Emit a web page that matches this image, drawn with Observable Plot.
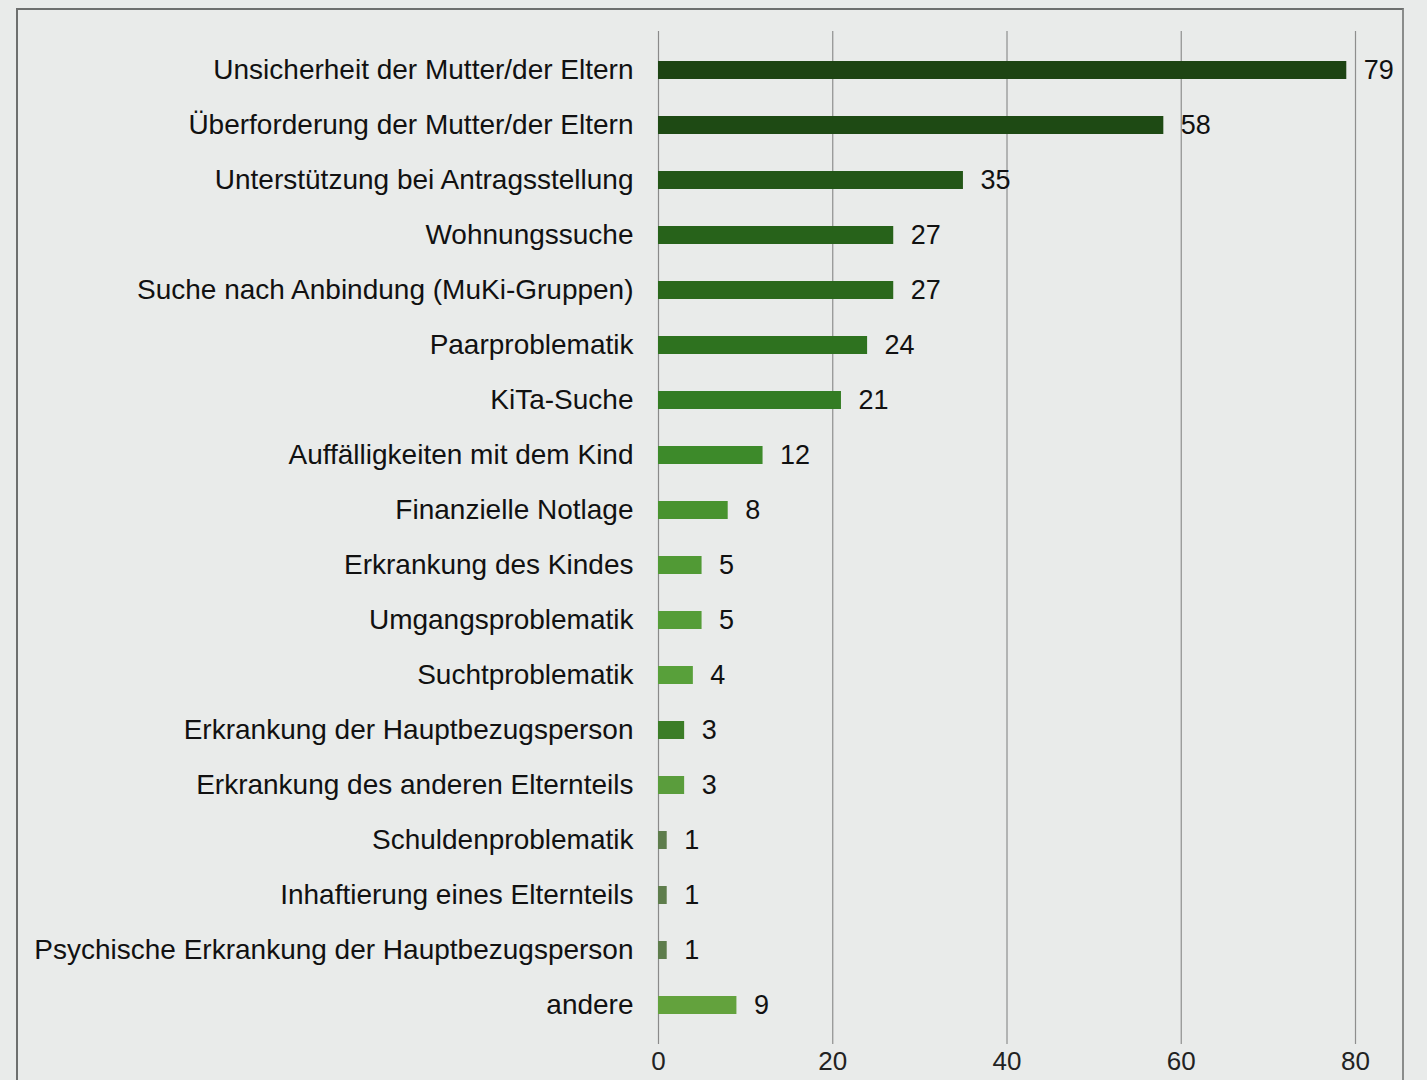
<!DOCTYPE html>
<html>
<head>
<meta charset="utf-8">
<script src="https://cdn.jsdelivr.net/npm/d3@7"></script>
<script src="https://cdn.jsdelivr.net/npm/@observablehq/plot@0.6"></script>
<style>
  html, body { margin: 0; padding: 0; background: #e9ebea; }
  #frame { position: absolute; left: 16px; top: 8px; width: 1384px; height: 1100px; border-top: 2px solid #6d6f6e; border-left: 2px solid #6d6f6e; border-right: 2px solid #8a8c8b; }
  #chart { position: absolute; left: 0; top: 0; }
  svg { font-family: "Liberation Sans", Arial, sans-serif; }
</style>
</head>
<body>
<div id="frame"></div>
<div id="chart"></div>
<script>
const categories = [
  "Unsicherheit der Mutter/der Eltern",
  "Überforderung der Mutter/der Eltern",
  "Unterstützung bei Antragsstellung",
  "Wohnungssuche",
  "Suche nach Anbindung (MuKi-Gruppen)",
  "Paarproblematik",
  "KiTa-Suche",
  "Auffälligkeiten mit dem Kind",
  "Finanzielle Notlage",
  "Erkrankung des Kindes",
  "Umgangsproblematik",
  "Suchtproblematik",
  "Erkrankung der Hauptbezugsperson",
  "Erkrankung des anderen Elternteils",
  "Schuldenproblematik",
  "Inhaftierung eines Elternteils",
  "Psychische Erkrankung der Hauptbezugsperson",
  "andere"
];
const values = [79, 58, 35, 27, 27, 24, 21, 12, 8, 5, 5, 4, 3, 3, 1, 1, 1, 9];
const xTicks = [0, 20, 40, 60, 80];
const palette = [
  "#1d4413", "#1e4a14", "#235617", "#27621a", "#2a681c", "#2e721f", "#337c23",
  "#3d8a2a", "#48932f", "#519a35", "#559d38", "#58a03a", "#3b7d27", "#5a9d3c",
  "#5e7d4c", "#5e7d4c", "#5e7d4c", "#63a23d"
];

const data = categories.map((c, i) => ({category: c, value: values[i]}));

const chart = Plot.plot({
  width: 1427,
  height: 1080,
  marginLeft: 658,
  marginRight: 72,
  marginTop: 31,
  marginBottom: 36,
  style: {background: "transparent", fontSize: "27px", color: "#111"},
  x: {domain: [0, 80], ticks: xTicks, label: null},
  y: {domain: categories, paddingInner: 0.67, paddingOuter: 0.505, label: null},
  color: {domain: categories, range: palette},
  marks: [
    Plot.gridX(xTicks.filter(d => d > 0), {stroke: "#777", strokeOpacity: 0.8, strokeWidth: 1.2}),
    Plot.ruleX([0], {stroke: "#8a8a8a", strokeWidth: 1.2}),
    Plot.barX(data, {x: "value", y: "category", fill: "category"}),
    Plot.text(data, {x: "value", y: "category", text: d => String(d.value), textAnchor: "start", dx: 17, fontSize: 27, fill: "#111"}),
    Plot.axisY({tickSize: 0, tickPadding: 25, fontSize: 28, fill: "#111"}),
    Plot.axisX({ticks: xTicks, tickSize: 0, tickPadding: 7, fontSize: 26, fill: "#222"})
  ]
});
document.getElementById("chart").appendChild(chart);
</script>
</body>
</html>
